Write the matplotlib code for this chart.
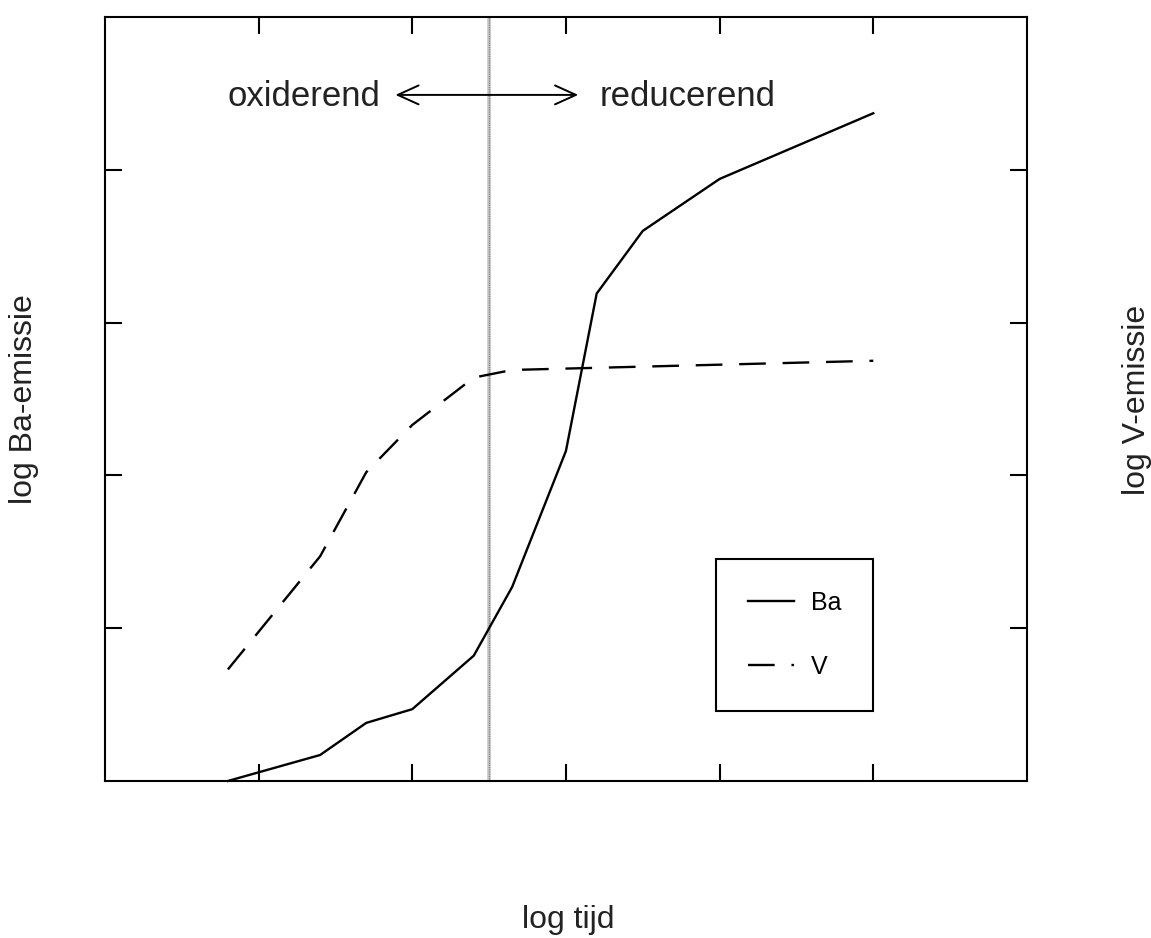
import numpy as np
import matplotlib
matplotlib.use("Agg")
import matplotlib.pyplot as plt
from matplotlib.patches import FancyArrowPatch

plt.rcParams["font.family"] = ["Liberation Sans", "DejaVu Sans"]

# log time (arbitrary units) and log emission for both elements
ba_tijd = [0.8, 1.4, 1.7, 2.0, 2.4, 2.65, 3.0, 3.2, 3.5, 4.0, 5.0]
ba_emissie = [0.0, 0.17, 0.38, 0.47, 0.82, 1.27, 2.16, 3.19, 3.60, 3.94, 4.37]

v_tijd = [0.8, 1.4, 1.7, 2.0, 2.4, 2.65, 5.0]
v_emissie = [0.73, 1.47, 2.02, 2.33, 2.64, 2.69, 2.75]

omslag = 2.5          # switch from oxidising to reducing
x_ticks = [1, 2, 3, 4, 5]
y_ticks = [1, 2, 3, 4]

fig = plt.figure(figsize=(11.51, 9.38), dpi=100)
ax = fig.add_axes([0.0912, 0.1674, 0.801, 0.8145])

ax.plot(ba_tijd, ba_emissie, color="black", lw=1.7, label="Ba", clip_on=False)
ax.plot(v_tijd, v_emissie, color="black", lw=1.7, linestyle=(0, (11.3, 7.1)),
        label="V", clip_on=False)

# boundary between the two regimes
ax.axvline(omslag, color="0.78", lw=2.6, zorder=1)
ax.axvline(omslag, color="0.5", lw=1.0, linestyle=(0, (0.8, 0.8)), zorder=1)

ax.set_xlim(0, 6)
ax.set_ylim(0, 5)
ax.set_xticks(x_ticks)
ax.set_yticks(y_ticks)
ax.tick_params(direction="in", length=12, width=1.5, top=True, right=True,
               labelbottom=False, labelleft=False)
for sp in ax.spines.values():
    sp.set_linewidth(1.5)

# region annotation with double arrow
ax.text(1.79, 4.42, "oxiderend", ha="right", va="baseline", fontsize=25, color="#222222")
ax.text(3.22, 4.42, "reducerend", ha="left", va="baseline", fontsize=25, color="#222222")
pijl = FancyArrowPatch((1.89, 4.49), (3.08, 4.49),
                       arrowstyle="<->,head_length=0.75,head_width=0.34",
                       mutation_scale=20, lw=1.4, color="black", shrinkA=0, shrinkB=0)
ax.add_patch(pijl)

leg = ax.legend(loc="upper left", bbox_to_anchor=(0.663, 0.291), borderaxespad=0,
                fontsize=18, handlelength=1.85, handletextpad=0.65, labelspacing=1.6,
                borderpad=1.28, fancybox=False, framealpha=1)
leg.get_frame().set_edgecolor("black")
leg.get_frame().set_linewidth(1.5)

fig.text(0.021, 0.574, "log Ba-emissie", rotation=90, ha="center", va="center",
         fontsize=23, color="#222222")
fig.text(0.9875, 0.574, "log V-emissie", rotation=90, ha="center", va="center",
         fontsize=23, color="#222222")
fig.text(0.494, 0.011, "log tijd", ha="center", va="baseline", fontsize=23, color="#222222")

plt.savefig("out.png", dpi=100)
